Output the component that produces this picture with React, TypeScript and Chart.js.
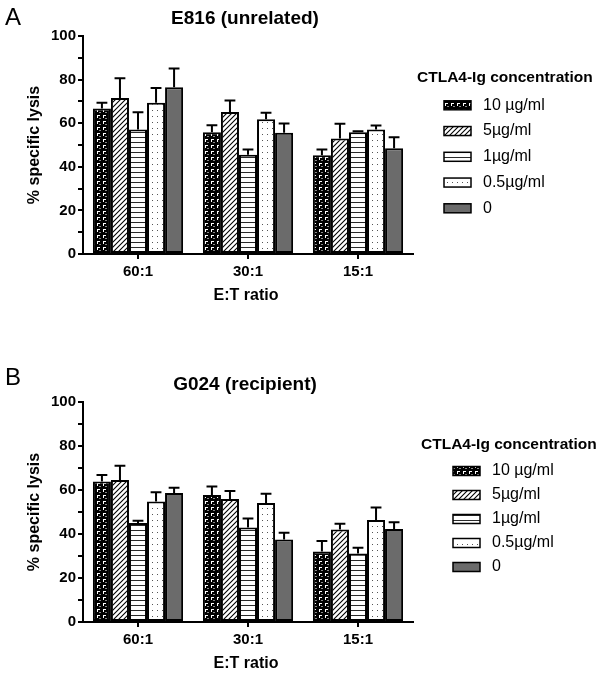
import React, { useEffect, useRef } from 'react';
import { Chart, registerables } from 'chart.js';
Chart.register(...registerables);

const FONT = '"Liberation Sans", Arial, sans-serif';

const categories = ['60:1', '30:1', '15:1'];
const concentrations = ['10 µg/ml', '5µg/ml', '1µg/ml', '0.5µg/ml', '0'];
const yTickValues = [0, 20, 40, 60, 80, 100];

// Panel A — E816 (unrelated): bar means and top of error bars
const e816_10 = [66.8, 55.9, 45.3];
const e816_10Err = [69.4, 59.1, 47.9];
const e816_5 = [71.6, 65.1, 53.0];
const e816_5Err = [80.6, 70.4, 59.8];
const e816_1 = [57.1, 45.5, 55.8];
const e816_1Err = [65.0, 47.9, 56.3];
const e816_05 = [69.4, 61.8, 57.1];
const e816_05Err = [76.2, 64.8, 59.0];
const e816_0 = [76.5, 55.6, 48.5];
const e816_0Err = [85.1, 59.9, 53.6];

// Panel B — G024 (recipient)
const g024_10 = [63.9, 57.7, 32.1];
const g024_10Err = [66.8, 61.6, 36.8];
const g024_5 = [64.5, 55.9, 42.1];
const g024_5Err = [71.0, 59.5, 44.7];
const g024_1 = [45.0, 42.9, 31.1];
const g024_1Err = [46.0, 47.0, 33.8];
const g024_05 = [54.8, 54.1, 46.4];
const g024_05Err = [59.0, 58.3, 52.0];
const g024_0 = [58.6, 37.5, 42.3];
const g024_0Err = [61.0, 40.6, 45.3];

const patternKinds = ['brick', 'diag', 'horiz', 'dots', 'solid'];

function makeFill(kind: string): any {
  if (kind === 'solid') return '#6b6b6b';
  const c = document.createElement('canvas');
  const ctx = c.getContext('2d')!;
  if (kind === 'brick') {
    c.width = 6; c.height = 6;
    ctx.fillStyle = '#000'; ctx.fillRect(0, 0, 6, 6);
    ctx.fillStyle = '#fff';
    ctx.fillRect(1, 1, 3, 1);
    ctx.fillRect(1, 2, 1, 2);
    ctx.fillStyle = '#8a8a8a';
    ctx.fillRect(3, 4, 2, 1);
  } else if (kind === 'diag') {
    c.width = 5; c.height = 5;
    ctx.fillStyle = '#fff'; ctx.fillRect(0, 0, 5, 5);
    ctx.strokeStyle = '#000'; ctx.lineWidth = 1.1;
    ctx.beginPath();
    ctx.moveTo(0, 5); ctx.lineTo(5, 0);
    ctx.moveTo(-1, 1); ctx.lineTo(1, -1);
    ctx.moveTo(4, 6); ctx.lineTo(6, 4);
    ctx.stroke();
  } else if (kind === 'horiz') {
    c.width = 4; c.height = 5;
    ctx.fillStyle = '#fff'; ctx.fillRect(0, 0, 4, 5);
    ctx.fillStyle = '#2a2a2a'; ctx.fillRect(0, 2, 4, 1);
  } else if (kind === 'dots') {
    c.width = 5; c.height = 6;
    ctx.fillStyle = '#fff'; ctx.fillRect(0, 0, 5, 6);
    ctx.fillStyle = '#555'; ctx.fillRect(2, 2, 1, 1);
  }
  const tmp = document.createElement('canvas').getContext('2d')!;
  return tmp.createPattern(c, 'repeat');
}

type PanelCfg = {
  letter: string;
  title: string;
  means: number[][];
  errs: number[][];
  top: number;
  xAxisHeight: number;
  letterY: number;
  titleY: number;
  legendTitleX: number;
  legendTitleY: number;
  legendBoxX: number;
  legendTextX: number;
  legendFirstY: number;
  legendStep: number;
};

const panelA: PanelCfg = {
  letter: 'A', title: 'E816 (unrelated)',
  means: [e816_10, e816_5, e816_1, e816_05, e816_0],
  errs: [e816_10Err, e816_5Err, e816_1Err, e816_05Err, e816_0Err],
  top: 36, xAxisHeight: 84,
  letterY: 25, titleY: 19,
  legendTitleX: 417, legendTitleY: 78,
  legendBoxX: 444, legendTextX: 483, legendFirstY: 105.3, legendStep: 25.75,
};

const panelB: PanelCfg = {
  letter: 'B', title: 'G024 (recipient)',
  means: [g024_10, g024_5, g024_1, g024_05, g024_0],
  errs: [g024_10Err, g024_5Err, g024_1Err, g024_05Err, g024_0Err],
  top: 64, xAxisHeight: 54,
  letterY: 47, titleY: 47,
  legendTitleX: 421, legendTitleY: 107,
  legendBoxX: 453, legendTextX: 492, legendFirstY: 133, legendStep: 24,
};

function Panel({ cfg }: { cfg: PanelCfg }) {
  const ref = useRef<HTMLCanvasElement>(null);
  useEffect(() => {
    const fills = patternKinds.map(makeFill);
    const datasets = concentrations.map((label, i) => ({
      label,
      data: cfg.means[i],
      errTop: cfg.errs[i],
      backgroundColor: fills[i],
      borderColor: '#000',
      borderWidth: 2,
      borderSkipped: false,
      categoryPercentage: 0.82,
      barPercentage: 1.0,
    }));

    const errorBars = {
      id: 'errorBars',
      afterDatasetsDraw(chart: any) {
        const ctx = chart.ctx;
        const y = chart.scales.y;
        ctx.save();
        ctx.strokeStyle = '#000';
        ctx.lineWidth = 2;
        chart.data.datasets.forEach((ds: any, di: number) => {
          const meta = chart.getDatasetMeta(di);
          meta.data.forEach((el: any, j: number) => {
            const yTop = y.getPixelForValue(ds.data[j]);
            const yErr = y.getPixelForValue(ds.errTop[j]);
            const half = el.width * 0.3;
            ctx.beginPath();
            ctx.moveTo(el.x, yTop);
            ctx.lineTo(el.x, yErr);
            ctx.moveTo(el.x - half, yErr);
            ctx.lineTo(el.x + half, yErr);
            ctx.stroke();
          });
        });
        ctx.restore();
      },
    };

    const texts = {
      id: 'panelTexts',
      afterDraw(chart: any) {
        const ctx = chart.ctx;
        const ca = chart.chartArea;
        ctx.save();
        ctx.fillStyle = '#000';
        ctx.font = `24px ${FONT}`;
        ctx.textAlign = 'left';
        ctx.textBaseline = 'alphabetic';
        ctx.fillText(cfg.letter, 5, cfg.letterY);

        ctx.font = `bold 19px ${FONT}`;
        ctx.textAlign = 'center';
        ctx.textBaseline = 'middle';
        ctx.fillText(cfg.title, 245, cfg.titleY);

        ctx.font = `bold 16px ${FONT}`;
        ctx.fillText('E:T ratio', 246, ca.bottom + 42);

        ctx.save();
        ctx.translate(35, (ca.top + ca.bottom) / 2);
        ctx.rotate(-Math.PI / 2);
        ctx.fillText('% specific lysis', 0, 0);
        ctx.restore();

        // legend
        ctx.textAlign = 'left';
        ctx.font = `bold 15.5px ${FONT}`;
        ctx.fillText('CTLA4-Ig concentration', cfg.legendTitleX, cfg.legendTitleY);
        ctx.font = `16px ${FONT}`;
        chart.data.datasets.forEach((ds: any, i: number) => {
          const cy = cfg.legendFirstY + i * cfg.legendStep;
          ctx.fillStyle = ds.backgroundColor;
          ctx.fillRect(cfg.legendBoxX, cy - 4.5, 27, 9);
          ctx.strokeStyle = '#000';
          ctx.lineWidth = 1.5;
          ctx.strokeRect(cfg.legendBoxX, cy - 4.5, 27, 9);
          ctx.fillStyle = '#000';
          ctx.fillText(ds.label, cfg.legendTextX, cy);
        });
        ctx.restore();
      },
    };

    const chart = new Chart(ref.current!, {
      type: 'bar',
      data: { labels: categories, datasets: datasets as any },
      options: {
        animation: false,
        responsive: false,
        layout: { padding: { top: cfg.top, right: 190, left: 0, bottom: 0 } },
        plugins: { legend: { display: false }, tooltip: { enabled: false }, title: { display: false } },
        scales: {
          x: {
            afterFit: (s: any) => { s.height = cfg.xAxisHeight; },
            grid: { display: true, drawOnChartArea: false, drawTicks: true, tickLength: 5, offset: false, color: '#000', lineWidth: 2 },
            border: { display: true, color: '#000', width: 2 },
            ticks: { color: '#000', font: { family: FONT, size: 15, weight: 'bold' }, padding: 4, maxRotation: 0 },
          },
          y: {
            min: 0, max: 100,
            afterFit: (s: any) => { s.width = 83; },
            grid: { display: true, drawOnChartArea: false, drawTicks: true, tickLength: 5, color: '#000', lineWidth: 2 },
            border: { display: true, color: '#000', width: 2 },
            ticks: {
              stepSize: 10, autoSkip: false, color: '#000', padding: 2,
              font: { family: FONT, size: 15, weight: 'bold' },
              callback: (v: any) => (yTickValues.includes(Number(v)) ? String(v) : ''),
            },
          },
        },
      } as any,
      plugins: [errorBars, texts],
    });
    return () => chart.destroy();
  }, [cfg]);
  return <canvas ref={ref} width={603} height={338} style={{ display: 'block', width: 603, height: 338 }} />;
}

export default function App() {
  return (
    <div style={{ position: 'absolute', left: 0, top: 0, width: 603, height: 676, background: '#fff' }}>
      <Panel cfg={panelA} />
      <Panel cfg={panelB} />
    </div>
  );
}
